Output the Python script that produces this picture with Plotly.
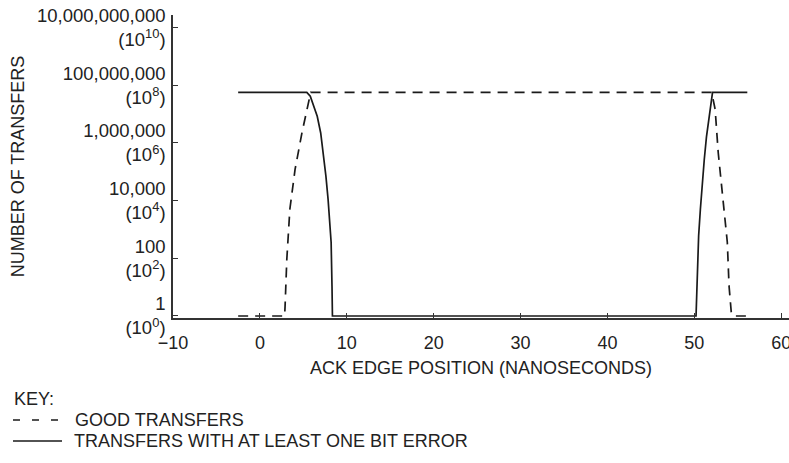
import plotly.graph_objects as go

# ---- data ----
good_x = [-2.5, 2.85, 2.9, 3.1, 3.45, 4.05, 4.85, 5.45, 5.85, 52.0, 52.4, 52.75, 53.3, 53.8, 54.0, 54.25, 54.45, 56.7]
good_y = [1, 1, 2.2, 93, 5.0e3, 1.2e5, 2.3e6, 1.45e7, 5.6e7, 5.6e7, 1.45e7, 4.7e5, 1.1e4, 360, 11, 1.4, 1, 1]

err_x = [-2.5, 5.4, 5.8, 6.2, 6.6, 7.0, 7.3, 7.6, 7.85, 8.05, 8.2, 8.3, 8.35,
         50.2, 50.35, 50.5, 50.7, 50.9, 51.15, 51.4, 51.65, 51.95, 52.1, 56.1]
err_y = [5.6e7, 5.6e7, 4.1e7, 2.0e7, 8.3e6, 2.2e6, 4.7e5, 7.0e4, 1.1e4, 1.6e3, 360, 11, 1,
         1, 55, 600, 5.0e3, 4.0e4, 2.7e5, 1.6e6, 6.6e6, 3.5e7, 5.6e7, 5.6e7]

x_ticks = [-10, 0, 10, 20, 30, 40, 50, 60]
y_tickvals = [1, 1e2, 1e4, 1e6, 1e8, 1e10]
y_ticktext = ["1<br>(10<sup>0</sup>)", "100<br>(10<sup>2</sup>)", "10,000<br>(10<sup>4</sup>)",
              "1,000,000<br>(10<sup>6</sup>)", "100,000,000<br>(10<sup>8</sup>)",
              "10,000,000,000<br>(10<sup>10</sup>)"]

key_title = "KEY:"
key_good = "GOOD TRANSFERS"
key_err = "TRANSFERS WITH AT LEAST ONE BIT ERROR"

FONT = "Liberation Sans, Arial, Helvetica, sans-serif"
TXT = "#222222"
LINE = "#1a1a1a"

fig = go.Figure()
fig.add_trace(go.Scatter(x=good_x, y=good_y, mode="lines", name=key_good,
                         line=dict(color=LINE, width=1.7, dash="10px,7px"), showlegend=False))
fig.add_trace(go.Scatter(x=err_x, y=err_y, mode="lines", name=key_err,
                         line=dict(color=LINE, width=1.7), showlegend=False))

L, R, T, B = 173, 0, 15, 145
W, H = 789, 463
pw, ph = W - L - R, H - T - B

def px(xp):
    return (xp - L) / pw

def py(yp):
    return (H - B - yp) / ph

fig.update_layout(
    width=W, height=H,
    margin=dict(l=L, r=R, t=T, b=B),
    paper_bgcolor="white", plot_bgcolor="white",
    font=dict(family=FONT, size=18, color=TXT),
    xaxis=dict(
        range=[-10, 60.9], tickvals=x_ticks, ticks="inside", ticklen=5, tickcolor="#333",
        showline=True, linecolor="#333", linewidth=1.5, showgrid=False, zeroline=False,
        tickfont=dict(size=18, color=TXT), automargin=False, ticklabelstandoff=8,
        ticklabeloverflow="allow",
        title=dict(text="ACK EDGE POSITION (NANOSECONDS)", font=dict(size=18, color=TXT), standoff=9),
    ),
    yaxis=dict(
        type="log", range=[-0.07, 10.43], tickvals=y_tickvals, ticktext=y_ticktext,
        ticks="inside", ticklen=5, tickcolor="#333",
        showline=True, linecolor="#333", linewidth=1.5, showgrid=False, zeroline=False,
        tickfont=dict(size=18.5, color=TXT), automargin=False, ticklabelstandoff=2,
        title=dict(text="NUMBER OF TRANSFERS", font=dict(size=18, color=TXT), standoff=8),
    ),
)

ann = dict(xref="paper", yref="paper", showarrow=False, xanchor="left", yanchor="middle",
           font=dict(size=18, color=TXT, family=FONT), borderpad=0)
fig.add_annotation(x=px(13), y=py(399), text=key_title, **ann)
fig.add_annotation(x=px(74), y=py(420), text=key_good, **ann)
fig.add_annotation(x=px(73), y=py(441), text=key_err, **ann)

fig.add_shape(type="line", xref="paper", yref="paper", x0=px(13), x1=px(59), y0=py(420), y1=py(420),
              line=dict(color=LINE, width=1.4, dash="7px,12px"))
fig.add_shape(type="line", xref="paper", yref="paper", x0=px(13), x1=px(62), y0=py(441), y1=py(441),
              line=dict(color=LINE, width=1.4))

fig.write_html("out.html")
